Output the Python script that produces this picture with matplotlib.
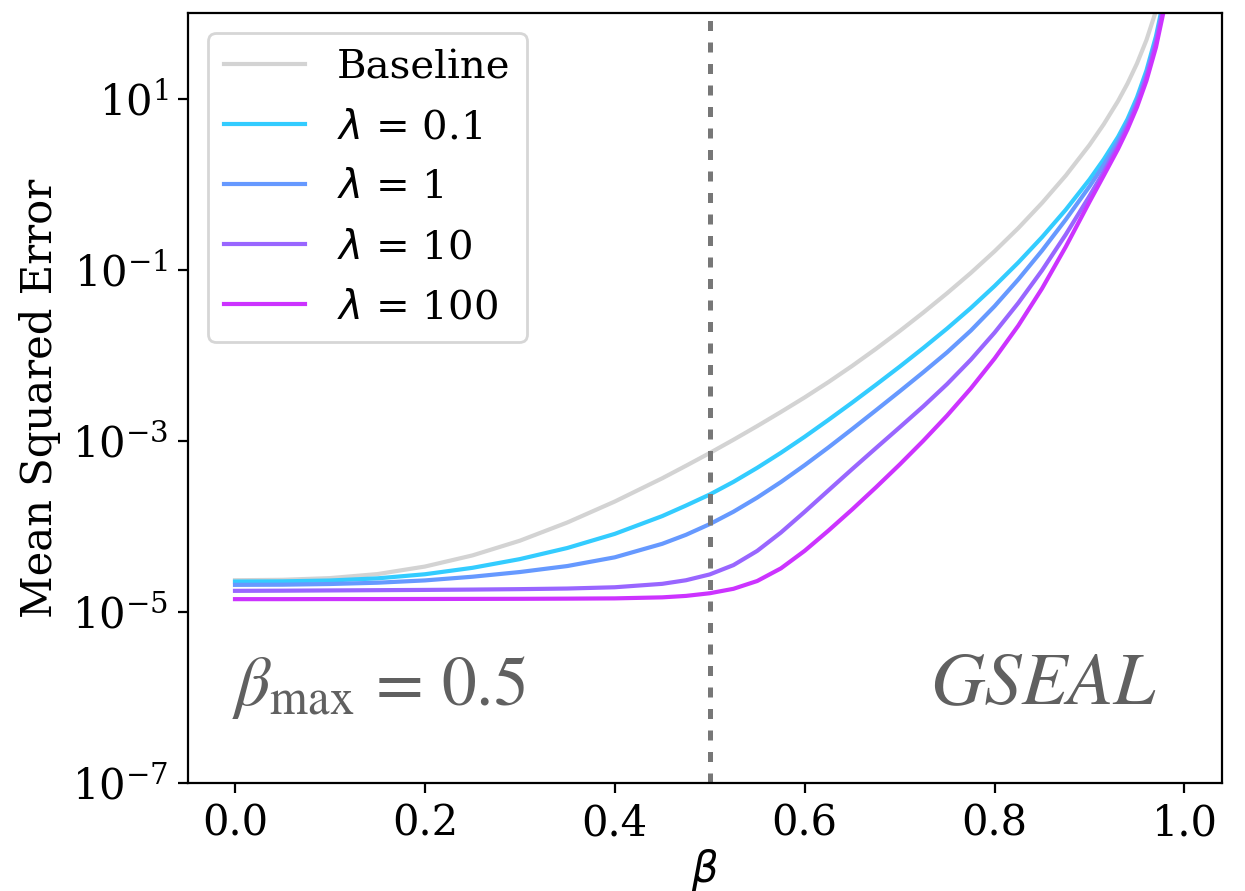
import matplotlib
matplotlib.use("Agg")
import matplotlib.pyplot as plt
from matplotlib.ticker import NullLocator
import numpy as np

plt.rcParams["font.family"] = ["DejaVu Serif"]

# beta grid shared by every curve
beta = [0.0, 0.05, 0.1, 0.15, 0.2, 0.25, 0.3, 0.35, 0.4, 0.45, 0.475, 0.5,
        0.525, 0.55, 0.575, 0.6, 0.625, 0.65, 0.675, 0.7, 0.725, 0.75,
        0.775, 0.8, 0.825, 0.85, 0.875, 0.9, 0.915, 0.93, 0.94, 0.95, 0.96,
        0.97, 0.98]

# log10 of the mean squared error for each method
log_mse_baseline = [-4.630, -4.625, -4.605, -4.558, -4.470, -4.340, -4.168,
                    -3.955, -3.710, -3.438, -3.292, -3.143, -2.988, -2.828,
                    -2.663, -2.493, -2.314, -2.125, -1.926, -1.718, -1.501,
                    -1.275, -1.038, -0.785, -0.514, -0.220, 0.100, 0.458,
                    0.700, 0.970, 1.175, 1.410, 1.685, 2.025, 2.465]
log_mse_l01 = [-4.645, -4.643, -4.633, -4.608, -4.560, -4.485, -4.383,
               -4.253, -4.088, -3.880, -3.757, -3.628, -3.480, -3.316,
               -3.140, -2.953, -2.756, -2.554, -2.346, -2.134, -1.915,
               -1.688, -1.448, -1.191, -0.916, -0.620, -0.299, 0.054,
               0.289, 0.551, 0.759, 1.014, 1.329, 1.729, 2.254]
log_mse_l1 = [-4.684, -4.682, -4.674, -4.659, -4.632, -4.589, -4.534,
              -4.464, -4.362, -4.204, -4.099, -3.974, -3.829, -3.664,
              -3.482, -3.285, -3.078, -2.863, -2.644, -2.423, -2.198,
              -1.966, -1.712, -1.427, -1.114, -0.777, -0.414, -0.027,
              0.224, 0.502, 0.714, 0.969, 1.284, 1.684, 2.209]
log_mse_l10 = [-4.754, -4.752, -4.749, -4.746, -4.743, -4.739, -4.734,
               -4.727, -4.712, -4.672, -4.630, -4.562, -4.453, -4.287,
               -4.072, -3.830, -3.580, -3.331, -3.086, -2.843, -2.597,
               -2.337, -2.052, -1.736, -1.389, -1.008, -0.589, -0.139,
               0.146, 0.450, 0.675, 0.935, 1.250, 1.650, 2.175]
log_mse_l100 = [-4.851, -4.851, -4.850, -4.850, -4.849, -4.848, -4.847,
                -4.845, -4.842, -4.830, -4.813, -4.782, -4.730, -4.639,
                -4.491, -4.286, -4.050, -3.803, -3.545, -3.278, -2.999,
                -2.705, -2.388, -2.039, -1.654, -1.220, -0.732, -0.207,
                0.100, 0.410, 0.640, 0.900, 1.210, 1.600, 2.120]

labels = ["Baseline", r"$\lambda$ = 0.1", r"$\lambda$ = 1",
          r"$\lambda$ = 10", r"$\lambda$ = 100"]
series = [log_mse_baseline, log_mse_l01, log_mse_l1, log_mse_l10, log_mse_l100]
colors = ["lightgray"] + [plt.cm.cool(t) for t in (0.2, 0.4, 0.6, 0.8)]

beta_max = 0.5
fs = 15

fig = plt.figure(figsize=(6.225, 4.455), dpi=200)
ax = fig.add_axes([0.1510, 0.1212, 0.8305, 0.8642])

for vals, lab, col in zip(series, labels, colors):
    ax.plot(beta, 10.0 ** np.asarray(vals), color=col, lw=1.5, label=lab)

ax.axvline(beta_max, color="#777777", lw=1.8, linestyle=(0, (2.0, 2.3)))

ax.set_yscale("log")
ax.set_ylim(1e-7, 1e2)
ax.set_xlim(-0.0495, 1.0395)
ax.set_yticks([1e-7, 1e-5, 1e-3, 1e-1, 1e1])
ax.yaxis.set_minor_locator(NullLocator())
ax.set_xticks([0.0, 0.2, 0.4, 0.6, 0.8, 1.0])
ax.tick_params(labelsize=fs)

ax.set_xlabel(r"$\beta$", fontsize=fs, labelpad=1)
ax.set_ylabel("Mean Squared Error", fontsize=fs)

ax.legend(loc="upper left", fontsize=14.5, labelspacing=0.57)

ax.text(0.0426, 0.101, r"$\beta_{\max}\,=\,0.5$", transform=ax.transAxes,
        fontsize=25, color="#606060", math_fontfamily="stix",
        ha="left", va="baseline")
ax.text(0.935, 0.104, "GSEAL", transform=ax.transAxes, fontsize=27,
        color="#606060", family="STIXGeneral", style="italic",
        ha="right", va="baseline")

fig.savefig("out.png", dpi=200)
